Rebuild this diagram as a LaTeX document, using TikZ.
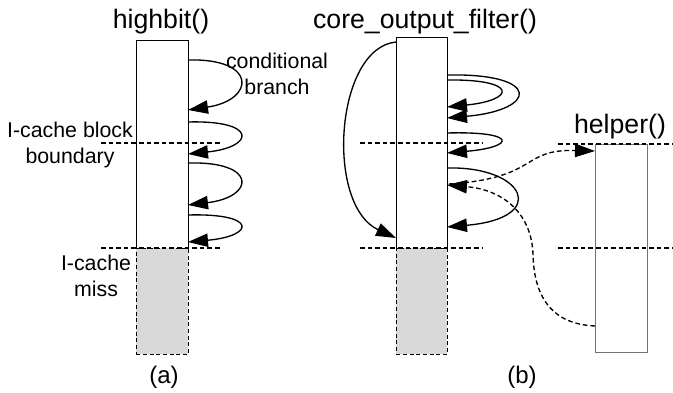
\documentclass[tikz,border=0pt]{standalone}
\usepackage{fontspec}
\setmainfont{Liberation Sans}
\usetikzlibrary{arrows.meta}

\begin{document}
\begin{tikzpicture}[x=0.75pt,y=-0.75pt,
  codebox/.style={draw=black,line width=0.6pt,fill=white,inner sep=0pt,anchor=north west},
  missbox/.style={draw=black,dash pattern=on 3pt off 2pt,line width=0.6pt,fill=black!15,inner sep=0pt,anchor=north west},
  blockline/.style={dash pattern=on 3.5pt off 2.2pt,line width=1pt},
  branch/.style={line width=1pt,-{Triangle[length=15pt,width=10pt]}},
  callarrow/.style={branch,dash pattern=on 3.5pt off 2.2pt},
  title/.style={font=\fontsize{20}{24}\selectfont,inner sep=0pt},
  note/.style={font=\fontsize{16}{19}\selectfont,align=center,inner sep=0pt},
]
\useasboundingbox (0,0) rectangle (673,392);

% ---------------- (a) highbit() ----------------
\node[codebox,minimum width=39pt,minimum height=156pt] (hb) at (136,40) {};
\node[missbox,minimum width=39pt,minimum height=79.5pt] (hbmiss) at (136,248) {};
\coordinate (hbl1a) at (101,143); \coordinate (hbl1b) at (222,143);
\coordinate (hbl2a) at (101,248); \coordinate (hbl2b) at (222,248);
\draw[blockline] (hbl1a) -- (hbl1b);
\draw[blockline] (hbl2a) -- (hbl2b);

\node[title] (hbtitle) at (161,22) {highbit()};
\node[note] (condlabel) at (277,74) {conditional\\branch};
\node[note] (blocklabel) at (70,145) {I-cache block\\boundary};
\node[note] (misslabel) at (96,276) {I-cache\\miss};
\node[font=\fontsize{18}{22}\selectfont] (capa) at (164,377) {(a)};

\coordinate (a1s) at (188,60);  \coordinate (a1e) at (188,110);
\coordinate (a2s) at (188,122); \coordinate (a2e) at (188,154);
\coordinate (a3s) at (188,163); \coordinate (a3e) at (188,205);
\coordinate (a4s) at (188,215); \coordinate (a4e) at (188,242);
\draw[branch] (a1s) .. controls (258,58) and (255,100) .. (a1e);
\draw[branch] (a2s) .. controls (258,120) and (255,147) .. (a2e);
\draw[branch] (a3s) .. controls (258,161) and (255,197) .. (a3e);
\draw[branch] (a4s) .. controls (258,213) and (255,236) .. (a4e);

% ---------------- (b) core_output_filter() ----------------
\node[codebox,minimum width=38.25pt,minimum height=158.25pt] (cf) at (396,37) {};
\node[missbox,minimum width=38.25pt,minimum height=79.5pt] (cfmiss) at (396,248) {};
\coordinate (cfl1a) at (360,143); \coordinate (cfl1b) at (482,143);
\coordinate (cfl2a) at (360,248); \coordinate (cfl2b) at (482,248);
\draw[blockline] (cfl1a) -- (cfl1b);
\draw[blockline] (cfl2a) -- (cfl2b);
\node[title] (cftitle) at (425,22) {core\_output\_filter()};
\node[font=\fontsize{18}{22}\selectfont] (capb) at (522,377) {(b)};

% helper()
\node[codebox,draw=black!55,minimum width=39pt,minimum height=156pt] (hp) at (595,144) {};
\coordinate (hpl1a) at (558,144); \coordinate (hpl1b) at (673,144);
\coordinate (hpl2a) at (558,248); \coordinate (hpl2b) at (673,248);
\draw[blockline] (hpl1a) -- (hpl1b);
\draw[blockline] (hpl2a) -- (hpl2b);
\node[title] (hptitle) at (620,127) {helper()};

% branches inside core_output_filter()
\coordinate (b0s) at (396,42);  \coordinate (b0e) at (396,238);
\coordinate (b1s) at (447,75);  \coordinate (b1e) at (447,118);
\coordinate (b2s) at (447,80);  \coordinate (b2e) at (447,107);
\coordinate (b3s) at (447,133); \coordinate (b3e) at (447,153);
\coordinate (b4s) at (447,168); \coordinate (b4e) at (447,227);
\draw[branch] (b0s) .. controls (335,48) and (325,205) .. (b0e);
\draw[branch] (b1s) .. controls (542,73) and (538,110) .. (b1e);
\draw[branch] (b2s) .. controls (518,79) and (516,100) .. (b2e);
\draw[branch] (b3s) .. controls (518,131) and (516,147) .. (b3e);
\draw[branch] (b4s) .. controls (525,166) and (550,218) .. (b4e);

% call into helper() and return
\coordinate (callsrc) at (449,184);
\coordinate (callin) at (595,151);
\coordinate (retsrc) at (595,326);
\coordinate (retin) at (447,185);
\draw[callarrow] (callsrc) .. controls (540,178) and (520,149) .. (callin);
\draw[callarrow] (retsrc) .. controls (548,324) and (534,292) .. (533,255)
  .. controls (532,215) and (505,190) .. (retin);
\end{tikzpicture}
\end{document}
